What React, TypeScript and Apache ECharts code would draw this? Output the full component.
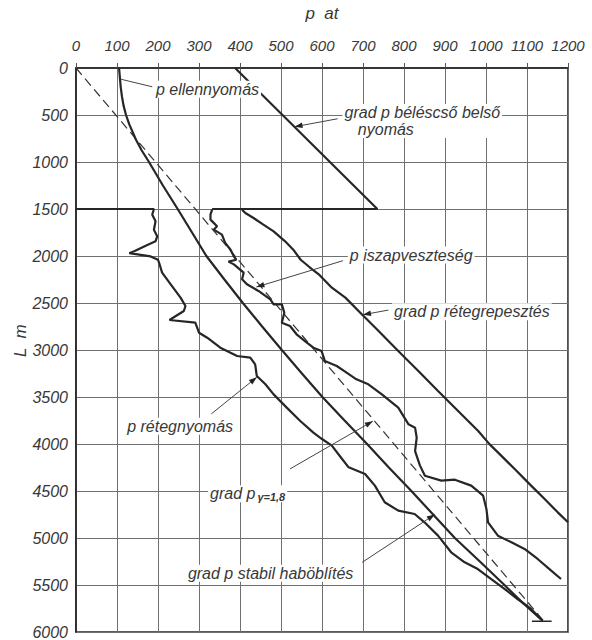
import React, { useEffect, useRef } from 'react';
import * as echarts from 'echarts';

// ---- axes ----
const xMin = 0, xMax = 1200, xStep = 100;
const yMin = 0, yMax = 6000, yStep = 500;

// ---- series data: [p (at), L (m)] ----
const dashedGrad = [[0, 0], [1140, 5880]];
const belescso = [[388, 0], [735, 1500], [332, 1500]];
const ellennyomas = [
  [105, 0], [107, 100], [109, 200], [112, 300], [116, 400], [122, 500], [130, 600], [146, 760],
  [160, 875], [178, 1000], [212, 1250], [248, 1500], [283, 1750], [318, 2000], [362, 2250],
  [407, 2500], [454, 2750], [502, 3000], [551, 3250], [601, 3500], [655, 3750], [710, 4000],
  [763, 4250], [818, 4500], [871, 4750], [924, 5000], [985, 5250], [1045, 5500], [1092, 5700], [1138, 5880],
];
const retegnyomas = [
  [0, 1500], [190, 1500], [186, 1560], [194, 1631], [190, 1720], [198, 1791], [194, 1844],
  [170, 1890], [142, 1950], [130, 1970], [182, 2004], [200, 2040], [204, 2090], [210, 2177],
  [231, 2301], [255, 2443], [267, 2532], [263, 2585], [228, 2681], [291, 2709], [300, 2816],
  [320, 2869], [352, 2975], [393, 3064], [425, 3082], [437, 3152], [441, 3277], [462, 3365],
  [482, 3472], [514, 3613], [547, 3755], [579, 3879], [600, 3947], [624, 4018], [649, 4160],
  [665, 4248], [705, 4319], [729, 4443], [753, 4620], [786, 4709], [826, 4745], [850, 4833],
  [883, 4975], [915, 5152], [948, 5259], [980, 5330], [1012, 5436], [1045, 5542], [1077, 5649],
  [1110, 5755], [1138, 5880],
];
const iszapveszteseg = [
  [332, 1507], [328, 1560], [328, 1613], [344, 1684], [336, 1720], [356, 1773], [364, 1862],
  [377, 1933], [385, 2004], [391, 2040], [372, 2060], [385, 2089], [409, 2177], [405, 2248],
  [417, 2301], [445, 2372], [474, 2461], [482, 2514], [502, 2514], [508, 2603], [502, 2709],
  [522, 2745], [538, 2833], [563, 2922], [579, 2975], [599, 3011], [607, 3117], [636, 3170],
  [660, 3241], [684, 3312], [713, 3365], [746, 3472], [786, 3613], [811, 3791], [827, 3826],
  [831, 3933], [827, 4075], [839, 4230], [851, 4337], [891, 4390], [924, 4380], [964, 4443],
  [993, 4550], [1001, 4691], [1005, 4833], [1029, 4975], [1062, 5046], [1094, 5117],
  [1126, 5223], [1159, 5347], [1183, 5436],
];
const retegrepesztes = [
  [405, 1507], [413, 1543], [433, 1596], [457, 1667], [482, 1738], [510, 1844], [530, 1933],
  [548, 2040], [570, 2120], [592, 2195], [624, 2337], [657, 2443], [697, 2620], [738, 2798],
  [786, 3011], [835, 3223], [883, 3436], [932, 3649], [981, 3862], [1009, 4004], [1029, 4089],
  [1070, 4266], [1110, 4443], [1143, 4585], [1175, 4727], [1200, 4833],
];
const endTick = [[1112, 5885], [1160, 5885]];

// ---- annotations (data coordinates) ----
const labels = [
  { text: 'p ellennyomás', at: [190, 225] },
  { text: 'grad p béléscső belső\n   nyomás', at: [650, 565] },
  { text: 'p iszapveszteség', at: [663, 1990] },
  { text: 'grad p rétegrepesztés', at: [771, 2593] },
  { text: 'p rétegnyomás', at: [120, 3810] },
  { text: '{a|grad p}{s|γ=1,8}', at: [322, 4530] },
  { text: 'grad p stabil haböblítés', at: [268, 5375] },
];
const arrows = [
  { from: [186, 200], to: [110, 120], head: false },
  { from: [638, 540], to: [533, 625], head: true },
  { from: [651, 2050], to: [440, 2330], head: true },
  { from: [762, 2575], to: [700, 2625], head: true },
  { from: [330, 3680], to: [441, 3290], head: true },
  { from: [522, 4265], to: [724, 3757], head: true },
  { from: [698, 5259], to: [875, 4750], head: true },
];
const xName = 'p  at';
const yName = 'L  m';
const yNameAt = 2900;

const FONT = '"Liberation Sans", "DejaVu Sans", sans-serif';
const INK = '#262626';
const TXT = '#383838';

export default function App() {
  const ref = useRef<HTMLDivElement>(null);
  useEffect(() => {
    if (!ref.current) return;
    const chart = echarts.init(ref.current, undefined, { renderer: 'svg' });
    const lineSeries = (data: number[][], extra: any = {}) => ({
      type: 'line',
      data,
      showSymbol: false,
      symbol: 'none',
      silent: true,
      lineStyle: { color: INK, width: 2.2, ...extra },
      z: 3,
    });
    chart.setOption({
      animation: false,
      backgroundColor: '#ffffff',
      grid: { left: 76, right: 24, top: 65, bottom: 8, show: true, borderColor: INK, borderWidth: 1.6, backgroundColor: 'transparent' },
      xAxis: {
        type: 'value', position: 'top', min: xMin, max: xMax, interval: xStep,
        name: xName, nameLocation: 'middle', nameGap: 46,
        nameTextStyle: { fontFamily: FONT, fontStyle: 'italic', fontSize: 17, color: TXT },
        axisLine: { show: true, lineStyle: { color: INK, width: 1.6 } },
        axisTick: { show: true, length: 5, lineStyle: { color: '#555' } },
        axisLabel: { fontFamily: FONT, fontStyle: 'italic', fontSize: 15, color: TXT, margin: 15, formatter: (v: number) => String(v) },
        splitLine: { show: true, lineStyle: { color: '#707070', width: 1 } },
      },
      yAxis: {
        type: 'value', inverse: true, min: yMin, max: yMax, interval: yStep,
        axisLine: { show: true, lineStyle: { color: INK, width: 1.6 } },
        axisTick: { show: false },
        axisLabel: { fontFamily: FONT, fontStyle: 'italic', fontSize: 16, color: TXT, margin: 8, formatter: (v: number) => String(v) },
        splitLine: { show: true, lineStyle: { color: '#707070', width: 1 } },
      },
      series: [
        lineSeries(dashedGrad, { width: 1.2, type: [9, 5], color: '#333' }),
        lineSeries(belescso),
        lineSeries(ellennyomas),
        lineSeries(retegnyomas),
        lineSeries(iszapveszteseg),
        lineSeries(retegrepesztes),
        lineSeries(endTick, { width: 1.5 }),
      ],
    });

    const px = (p: number[]) => chart.convertToPixel({ gridIndex: 0 }, p) as number[];
    const graphics: any[] = [];
    arrows.forEach((a) => {
      const s = px(a.from), t = px(a.to);
      graphics.push({ type: 'line', shape: { x1: s[0], y1: s[1], x2: t[0], y2: t[1] }, style: { stroke: '#444', lineWidth: 1 }, z: 10 });
      if (a.head) {
        const dx = t[0] - s[0], dy = t[1] - s[1];
        const len = Math.hypot(dx, dy) || 1;
        const ux = dx / len, uy = dy / len;
        const nx = -uy, ny = ux;
        const L = 8, W = 2.8;
        graphics.push({
          type: 'polygon',
          shape: { points: [[t[0], t[1]], [t[0] - ux * L + nx * W, t[1] - uy * L + ny * W], [t[0] - ux * L - nx * W, t[1] - uy * L - ny * W]] },
          style: { fill: '#222' }, z: 11,
        });
      }
    });
    labels.forEach((l) => {
      const p = px(l.at);
      graphics.push({
        type: 'text', x: p[0], y: p[1], z: 12,
        style: {
          text: l.text, fontFamily: FONT, fontStyle: 'italic', fontSize: 16, lineHeight: 17, fill: TXT,
          align: 'left', verticalAlign: 'middle', backgroundColor: '#fff', padding: [0, 2],
          rich: {
            a: { fontFamily: FONT, fontStyle: 'italic', fontSize: 16, fill: TXT, verticalAlign: 'top' },
            s: { fontFamily: FONT, fontStyle: 'italic', fontWeight: 'bold', fontSize: 11, fill: TXT, verticalAlign: 'bottom', padding: [9, 0, 0, 2] },
          },
        },
      });
    });
    const yp = px([0, yNameAt]);
    graphics.push({
      type: 'text', x: 20, y: yp[1], rotation: Math.PI / 2, z: 12,
      style: { text: yName, fontFamily: FONT, fontStyle: 'italic', fontSize: 17, fill: TXT, align: 'center', verticalAlign: 'middle' },
    });
    chart.setOption({ graphic: graphics });
    return () => chart.dispose();
  }, []);
  return <div ref={ref} style={{ position: 'fixed', left: 0, top: 0, width: 592, height: 640 }} />;
}
